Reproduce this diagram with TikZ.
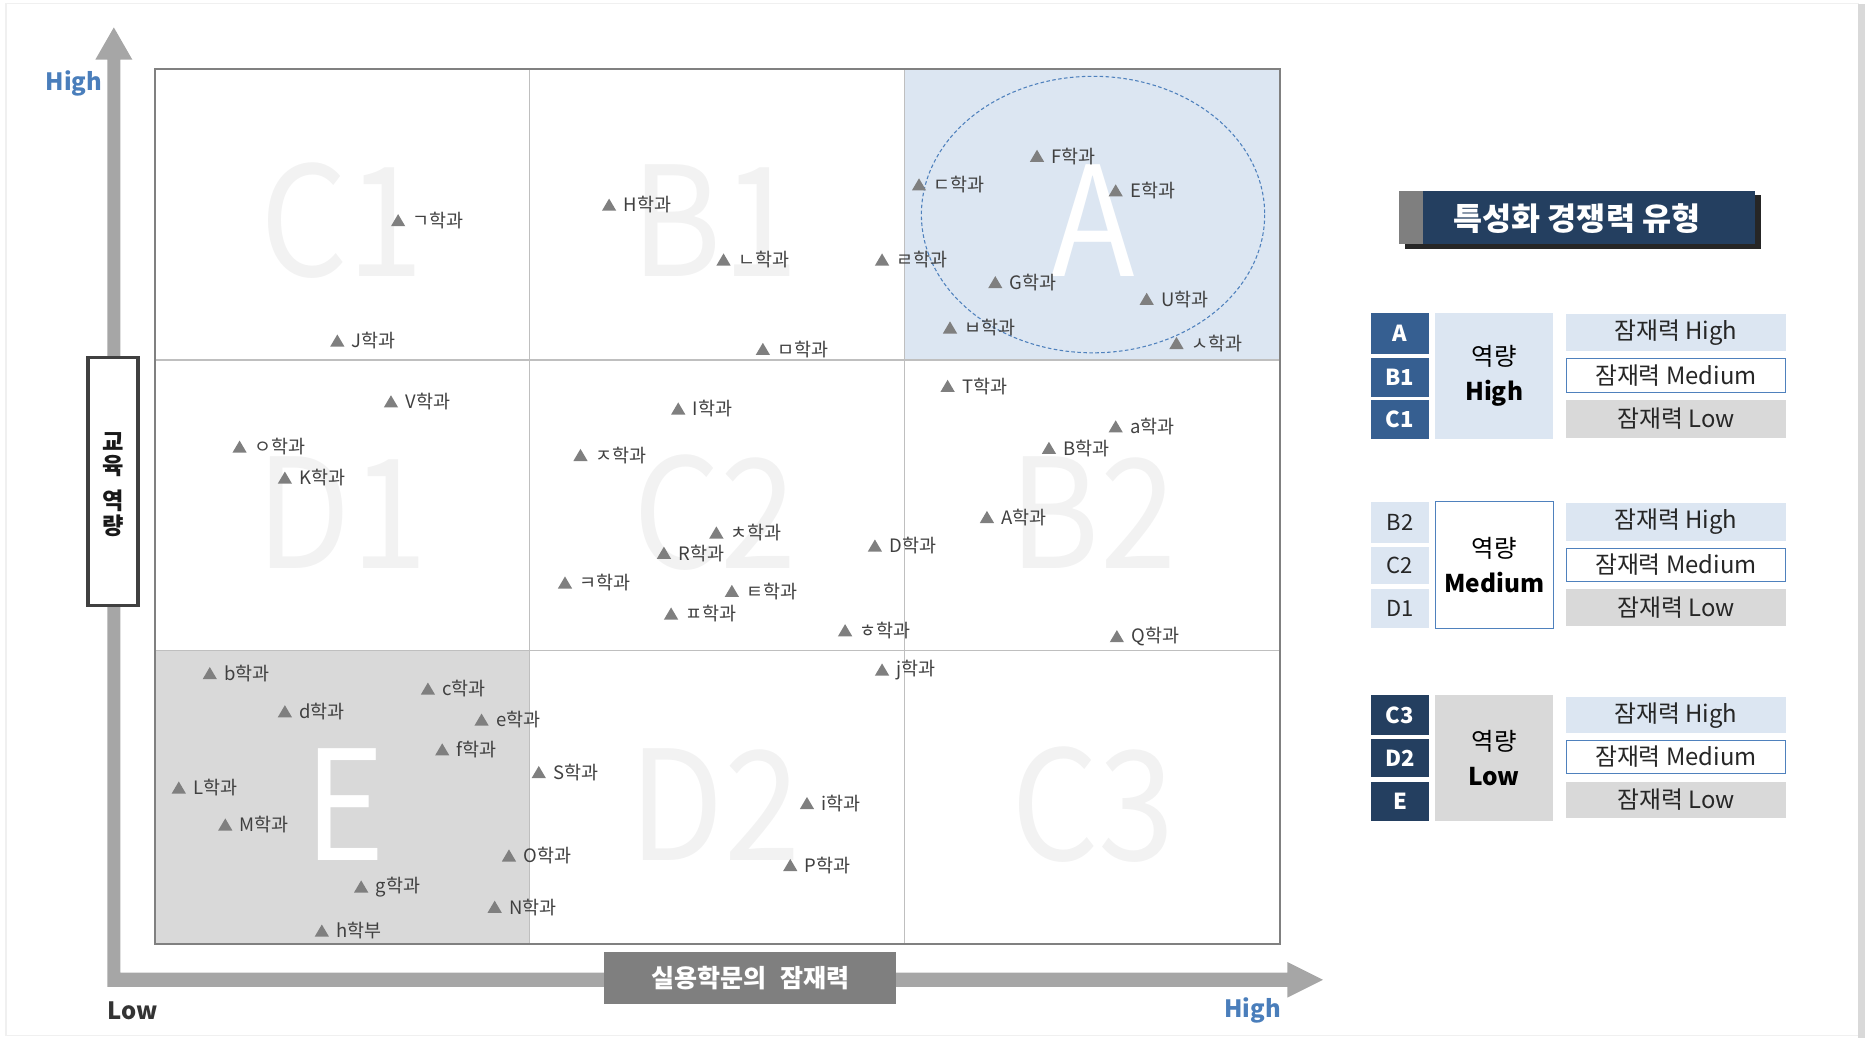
\documentclass[tikz,border=0pt]{standalone}
\usepackage{fontspec}
\setmainfont{Noto Sans CJK KR}
\usetikzlibrary{shapes.geometric,arrows.meta}
\definecolor{gridout}{HTML}{808080}
\definecolor{gridin}{HTML}{BFBFBF}
\definecolor{cellA}{HTML}{DCE6F2}
\definecolor{cellE}{HTML}{D9D9D9}
\definecolor{bigtxt}{HTML}{F2F2F2}
\definecolor{axisgray}{HTML}{A6A6A6}
\definecolor{labgray}{HTML}{7F7F7F}
\definecolor{trigray}{HTML}{7F7F7F}
\definecolor{lbltxt}{HTML}{404040}
\definecolor{hiblue}{HTML}{4A7EBB}
\definecolor{navy}{HTML}{243F60}
\definecolor{midblue}{HTML}{365F91}
\definecolor{bordblue}{HTML}{4F81BD}
\definecolor{shadowc}{HTML}{262626}
\tikzset{
  lbl/.style={font=\fontsize{15.5}{17}\selectfont, text=lbltxt, inner sep=0pt, anchor=west},
  bigl/.style={font=\fontsize{128}{128}\selectfont, text=bigtxt, inner sep=0pt, xscale=0.9},
  axlab/.style={font=\fontsize{20}{22}\selectfont\bfseries, inner sep=0pt},
  code/.style={minimum width=48pt, inner sep=0pt, font=\fontsize{18.5}{20}\selectfont},
  rbox/.style={minimum width=184pt, inner sep=0pt, font=\fontsize{20}{22}\selectfont, text=black!85},
  mid/.style={minimum width=99pt, inner sep=0pt, font=\fontsize{20.5}{29}\selectfont, align=center, text=black},
}
\newcommand\dept[4]{%
  \fill[trigray] ({#2-6},{#3+4.8}) -- ({#2+6},{#3+4.8}) -- (#2,{#3-5.4}) -- cycle;
  \node[lbl] (#1) at ({#2+12},#3) {#4};}
\begin{document}
\begin{tikzpicture}[x=1pt,y=-1pt]
\useasboundingbox (0,0) rectangle (1568,871);
% slide frame
\draw[gray!12, line width=1pt] (5,3) rectangle (1559,869);
\fill[gray!30] (1559,3) rectangle (1565,871);

% cell fills
\fill[cellA] (759,58) rectangle (1074,302);
\fill[cellE] (130,546) rectangle (444,792);

% big letters
\node[bigl] (bC1) at (287,185) {C1};
\node[bigl] (bB1) at (600,185) {B1};
\node[bigl, text=white] (bA) at (917,185) {A};
\node[bigl] (bD1) at (287,430) {D1};
\node[bigl] (bC2) at (600,430) {C2};
\node[bigl] (bB2) at (917,430) {B2};
\node[bigl, text=white] (bE) at (289,675) {E};
\node[bigl] (bD2) at (600,675) {D2};
\node[bigl] (bC3) at (917,675) {C3};

% grid
\draw[gridin, line width=0.9pt] (444,58) -- (444,792) (759,58) -- (759,792)
  (130,302) -- (1074,302) (130,546) -- (1074,546);
\draw[gridout, line width=1.3pt] (130,58) rectangle (1074,792);

% ellipse
\draw[bordblue, line width=0.9pt, dash pattern=on 3pt off 2pt] (917,180) ellipse [x radius=144, y radius=116];

% axes
\fill[axisgray] (90,822) -- (90,50) -- (80,50) -- (95.5,23) -- (111,50) -- (101,50) -- (101,816) -- (1080,816) -- (1080,807) -- (1110,822) -- (1080,837) -- (1080,828) -- (90,828) -- cycle;
\node[axlab, text=hiblue] (yhigh) at (62,70) {High};
\node[axlab, text=black!80] (xlow) at (111,848) {Low};
\node[axlab, text=hiblue] (xhigh) at (1051,848) {High};

% axis label boxes
\node[draw=black!75, line width=3pt, fill=white, minimum width=42pt, minimum height=208pt, inner sep=0pt] (ybox) at (95,404) {};
\node[align=center, font=\fontsize{19.5}{20.5}\selectfont\bfseries, text=black!90, inner sep=0pt] (ytxt) at (95,406.5) {교\\육\\[9pt]역\\량};
\node[fill=labgray, minimum width=245pt, minimum height=43pt, inner sep=0pt, text=white, font=\fontsize{21}{23}\selectfont\bfseries] (xbox) at (629.5,820.5) {실용학문의\hspace{12pt}잠재력};

% data points
\dept{d1}{334}{185}{ㄱ학과}
\dept{d2}{283}{286}{J학과}
\dept{d3}{511}{172}{H학과}
\dept{d4}{607}{218}{ㄴ학과}
\dept{d5}{640}{293}{ㅁ학과}
\dept{d6}{740}{218}{ㄹ학과}
\dept{d7}{771}{155}{ㄷ학과}
\dept{d8}{870}{131}{F학과}
\dept{d9}{936}{160}{E학과}
\dept{d10}{835}{237}{G학과}
\dept{d11}{962}{251}{U학과}
\dept{d12}{797}{275}{ㅂ학과}
\dept{d13}{987}{288}{ㅅ학과}
\dept{d14}{328}{337}{V학과}
\dept{d15}{201}{375}{ㅇ학과}
\dept{d16}{239}{401}{K학과}
\dept{d17}{569}{343}{I학과}
\dept{d18}{487}{382}{ㅈ학과}
\dept{d19}{601}{447}{ㅊ학과}
\dept{d20}{557}{464}{R학과}
\dept{d21}{474}{489}{ㅋ학과}
\dept{d22}{614}{496}{ㅌ학과}
\dept{d23}{563}{515}{ㅍ학과}
\dept{d24}{709}{529}{ㅎ학과}
\dept{d25}{734}{458}{D학과}
\dept{d26}{795}{324}{T학과}
\dept{d27}{936}{358}{a학과}
\dept{d28}{880}{376}{B학과}
\dept{d29}{828}{434}{A학과}
\dept{d30}{937}{534}{Q학과}
\dept{d31}{176}{565}{b학과}
\dept{d32}{359}{578}{c학과}
\dept{d33}{239}{597}{d학과}
\dept{d34}{404}{604}{e학과}
\dept{d35}{371}{629}{f학과}
\dept{d36}{150}{661}{L학과}
\dept{d37}{189}{692}{M학과}
\dept{d38}{303}{744}{g학과}
\dept{d39}{270}{781}{h학부}
\dept{d40}{427}{718}{O학과}
\dept{d41}{415}{761}{N학과}
\dept{d42}{452}{648}{S학과}
\dept{d43}{740}{562}{j학과}
\dept{d44}{677}{674}{i학과}
\dept{d45}{663}{726}{P학과}

% legend title
\fill[shadowc] (1179,164) rectangle (1477,209);
\fill[navy] (1174,160) rectangle (1472,205);
\fill[labgray] (1174,160) rectangle (1194,205);
\node[text=white, font=\fontsize{26.5}{28}\selectfont\bfseries, inner sep=0pt] (ttl) at (1323,183.5) {특성화 경쟁력 유형};

% group High
\node[code, fill=midblue, text=white, minimum height=34pt, font=\fontsize{18.5}{20}\selectfont\bfseries] (gA) at (1174.5,280) {A};
\node[code, fill=midblue, text=white, minimum height=33pt, font=\fontsize{18.5}{20}\selectfont\bfseries] (gB1) at (1174.5,316.5) {B1};
\node[code, fill=midblue, text=white, minimum height=33pt, font=\fontsize{18.5}{20}\selectfont\bfseries] (gC1) at (1174.5,352) {C1};
\node[mid, fill=cellA, minimum height=105pt] (mH) at (1253.5,315.5) {역량\\\textbf{High}};
\node[rbox, fill=cellA, minimum height=31pt] (h1) at (1406,279) {잠재력 High};
\node[rbox, fill=white, draw=bordblue, line width=1pt, minimum height=28pt] (h2) at (1406,315) {잠재력 Medium};
\node[rbox, fill=cellE, minimum height=32pt] (h3) at (1406,351.5) {잠재력 Low};

% group Medium
\node[code, fill=cellA, text=black!85, minimum height=34pt] (gB2) at (1174.5,438.5) {B2};
\node[code, fill=cellA, text=black!85, minimum height=31pt] (gC2) at (1174.5,474.5) {C2};
\node[code, fill=cellA, text=black!85, minimum height=33pt] (gD1) at (1174.5,510.5) {D1};
\node[mid, fill=white, draw=bordblue, line width=1pt, minimum height=106pt] (mM) at (1253.5,474) {역량\\\textbf{Medium}};
\node[rbox, fill=cellA, minimum height=32pt] (m1) at (1406,438) {잠재력 High};
\node[rbox, fill=white, draw=bordblue, line width=1pt, minimum height=28pt] (m2) at (1406,474) {잠재력 Medium};
\node[rbox, fill=cellE, minimum height=31pt] (m3) at (1406,509.5) {잠재력 Low};

% group Low
\node[code, fill=navy, text=white, minimum height=34pt, font=\fontsize{18.5}{20}\selectfont\bfseries] (gC3) at (1174.5,600) {C3};
\node[code, fill=navy, text=white, minimum height=32pt, font=\fontsize{18.5}{20}\selectfont\bfseries] (gD2) at (1174.5,636) {D2};
\node[code, fill=navy, text=white, minimum height=33pt, font=\fontsize{18.5}{20}\selectfont\bfseries] (gE) at (1174.5,672.5) {E};
\node[mid, fill=cellE, minimum height=106pt] (mL) at (1253.5,636) {역량\\\textbf{Low}};
\node[rbox, fill=cellA, minimum height=30pt] (l1) at (1406,600) {잠재력 High};
\node[rbox, fill=white, draw=bordblue, line width=1pt, minimum height=28pt] (l2) at (1406,635) {잠재력 Medium};
\node[rbox, fill=cellE, minimum height=30pt] (l3) at (1406,671) {잠재력 Low};
\end{tikzpicture}
\end{document}
